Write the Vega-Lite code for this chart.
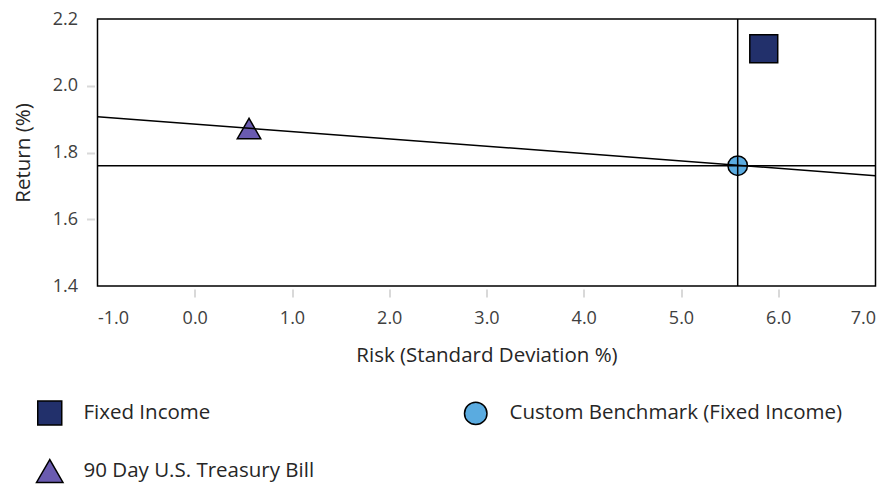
{
  "$schema": "https://vega.github.io/schema/vega-lite/v6.json",
  "autosize": {"type": "none"},
  "padding": {"left": 97.5, "top": 19, "right": 12.5, "bottom": 200.5},
  "width": 778,
  "height": 267,
  "background": "white",
  "config": {
    "view": {"stroke": "#000000", "strokeWidth": 1.5},
    "font": "Open Sans",
    "axis": {
      "grid": false,
      "domain": false,
      "labelFont": "Open Sans",
      "labelFontSize": 18,
      "labelColor": "#404040",
      "titleFont": "Open Sans",
      "titleFontSize": 20.5,
      "titleFontWeight": "normal",
      "titleColor": "#262626",
      "tickColor": "#d9d9d9",
      "tickWidth": 2,
      "tickSize": 8,
      "offset": 3,
      "labelPadding": 9
    }
  },
  "datasets": {
    "points": [
      {"series": "Fixed Income", "risk": 5.851, "ret": 2.111},
      {"series": "Custom Benchmark (Fixed Income)", "risk": 5.583, "ret": 1.7605},
      {"series": "90 Day U.S. Treasury Bill", "risk": 0.558, "ret": 1.872}
    ],
    "sml": [
      {"risk": -1.0, "ret": 1.907},
      {"risk": 7.0, "ret": 1.7305}
    ],
    "hline": [{"ret": 1.7605}],
    "vline": [{"risk": 5.583}]
  },
  "encoding": {
    "x": {
      "field": "risk", "type": "quantitative",
      "scale": {"domain": [-1, 7], "nice": false, "zero": false},
      "axis": {
        "title": "Risk (Standard Deviation %)",
        "values": [-1, 0, 1, 2, 3, 4, 5, 6, 7],
        "labelExpr": "replace(format(datum.value, '.1f'), '\u2212', '-')",
        "labelPadding": 12,
        "titlePadding": 18,
        "tickOpacity": {"condition": {"test": "datum.value == -1 || datum.value == 7", "value": 0}, "value": 1}
      }
    },
    "y": {
      "field": "ret", "type": "quantitative",
      "scale": {"domain": [1.4, 2.2], "nice": false, "zero": false},
      "axis": {
        "title": "Return (%)",
        "values": [1.4, 1.6, 1.8, 2.0, 2.2],
        "format": ".1f",
        "titlePadding": 19,
        "tickOpacity": {"condition": {"test": "datum.value < 1.45 || datum.value > 2.15", "value": 0}, "value": 1}
      }
    }
  },
  "layer": [
    {
      "data": {"name": "points"},
      "transform": [{"filter": "datum.series === 'Fixed Income'"}],
      "mark": {"type": "point", "filled": true, "opacity": 1, "stroke": "#000000", "strokeWidth": 1.5, "size": 780},
      "encoding": {
        "color": {
          "field": "series", "type": "nominal",
          "scale": {
            "domain": ["Fixed Income", "Custom Benchmark (Fixed Income)", "90 Day U.S. Treasury Bill"],
            "range": ["#22306b", "#5aabe0", "#6a5bb0"]
          },
          "legend": {
            "title": null,
            "orient": "none",
            "legendX": -60.75,
            "legendY": 381,
            "direction": "horizontal",
            "columns": 2,
            "columnPadding": 146,
            "rowPadding": 28,
            "padding": 0,
            "symbolSize": 576,
            "symbolStrokeColor": "#000000",
            "symbolStrokeWidth": 1.5,
            "symbolOpacity": 1,
            "labelFont": "Open Sans",
            "labelFontSize": 20.5,
            "labelColor": "#262626",
            "labelOffset": 20.75,
            "labelLimit": 400,
            "encode": {
              "symbols": {
                "update": {
                  "size": {"signal": "datum.value === '90 Day U.S. Treasury Bill' ? 700 : (datum.value === 'Custom Benchmark (Fixed Income)' ? 506 : 576)"}
                }
              }
            }
          }
        },
        "shape": {
          "field": "series", "type": "nominal",
          "scale": {
            "domain": ["Fixed Income", "Custom Benchmark (Fixed Income)", "90 Day U.S. Treasury Bill"],
            "range": ["square", "circle", "triangle-up"]
          }
        }
      }
    },
    {
      "data": {"name": "points"},
      "transform": [{"filter": "datum.series === 'Custom Benchmark (Fixed Income)'"}],
      "mark": {"type": "point", "filled": true, "opacity": 1, "stroke": "#000000", "strokeWidth": 1.5, "size": 380},
      "encoding": {
        "color": {"field": "series", "type": "nominal"},
        "shape": {"field": "series", "type": "nominal"}
      }
    },
    {
      "data": {"name": "points"},
      "transform": [{"filter": "datum.series === '90 Day U.S. Treasury Bill'"}],
      "mark": {"type": "point", "filled": true, "opacity": 1, "stroke": "#000000", "strokeWidth": 1.5, "size": 550},
      "encoding": {
        "color": {"field": "series", "type": "nominal"},
        "shape": {"field": "series", "type": "nominal"}
      }
    },
    {
      "data": {"name": "sml"},
      "mark": {"type": "line", "color": "#000000", "strokeWidth": 1.5, "clip": true},
      "encoding": {}
    },
    {
      "data": {"name": "hline"},
      "mark": {"type": "rule", "color": "#000000", "strokeWidth": 1.5},
      "encoding": {"x": {"value": 0}, "x2": {"value": 778}}
    },
    {
      "data": {"name": "vline"},
      "mark": {"type": "rule", "color": "#000000", "strokeWidth": 1.5},
      "encoding": {"y": {"value": 0}, "y2": {"value": 267}}
    }
  ]
}
